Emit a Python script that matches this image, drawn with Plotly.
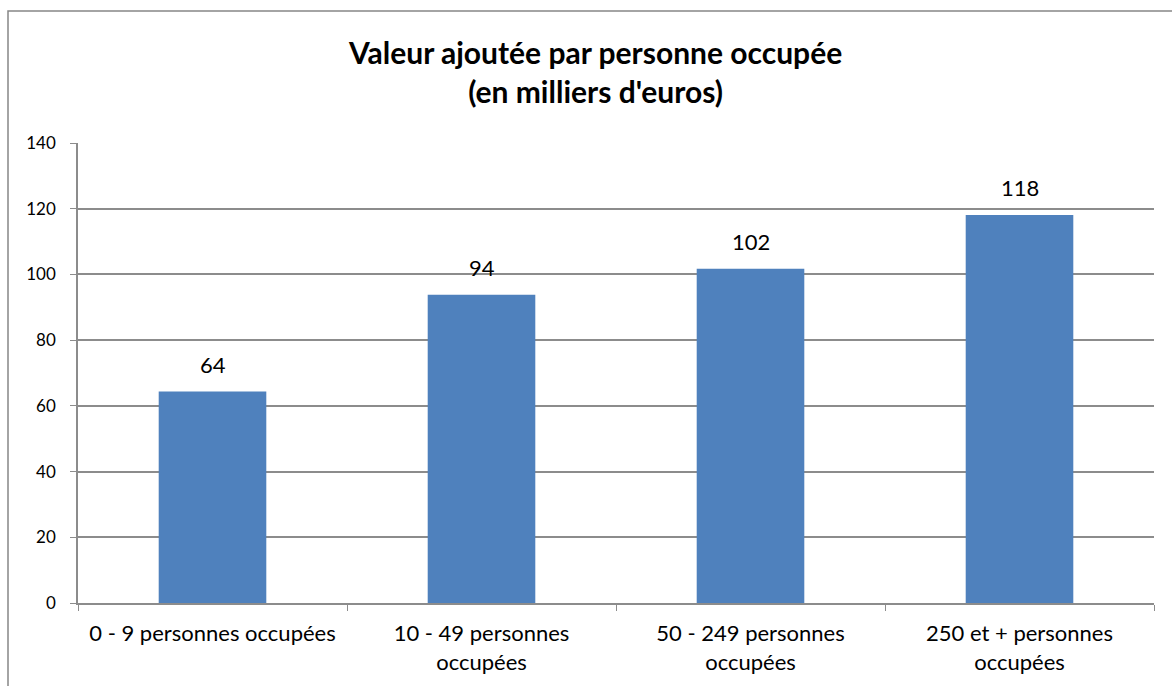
import plotly.graph_objects as go

categories = ["0 - 9 personnes occupées", "10 - 49 personnes<br>occupées",
              "50 - 249 personnes<br>occupées", "250 et + personnes<br>occupées"]
values = [64.4, 93.8, 101.7, 118.1]
labels = ["64", "94", "102", "118"]
y_ticks = [0, 20, 40, 60, 80, 100, 120, 140]

FONT = "Lato, Open Sans, sans-serif"
GRID = "#8c8c8c"

fig = go.Figure()
fig.add_trace(go.Bar(
    x=categories, y=values, width=0.4,
    marker=dict(color="#4F81BD", line=dict(width=0)),
    hoverinfo="skip",
))

for c, v, t in zip(categories, values, labels):
    fig.add_annotation(x=c, y=v, text=t, showarrow=False, yshift=27,
                       yanchor="middle",
                       font=dict(family=FONT, size=22, color="#000"))

# chart-area border
fig.add_shape(type="rect", xref="paper", yref="paper",
              x0=(8 - 78) / 1076, x1=(1185 - 78) / 1076,
              y0=(603 - 700) / 460, y1=(603 - 11) / 460,
              line=dict(color="#868686", width=1.5), layer="below")

fig.add_annotation(xref="paper", yref="paper",
                   x=(595 - 78) / 1076, y=(603 - 72) / 460,
                   xanchor="center", yanchor="middle",
                   text="<b>Valeur ajoutée par personne occupée<br>(en milliers d'euros)</b>",
                   showarrow=False, font=dict(family=FONT, size=30, color="#000"),
                   align="center")

fig.update_layout(
    width=1172, height=686,
    margin=dict(l=78, r=18, t=143, b=83),
    paper_bgcolor="white", plot_bgcolor="white",
    showlegend=False,
    font=dict(family=FONT, color="#000"),
    bargap=0.6,
)
fig.update_xaxes(
    type="category", tickson="boundaries", ticks="outside", ticklen=6,
    tickcolor=GRID, showline=True, linecolor=GRID, linewidth=1.5,
    showgrid=False, tickfont=dict(family=FONT, size=22, color="#000"),
    ticklabelstandoff=10,
)
fig.update_yaxes(
    range=[0, 140], tickvals=y_ticks, ticks="outside", ticklen=6,
    tickcolor=GRID, showline=True, linecolor=GRID, linewidth=1.5,
    showgrid=True, gridcolor=GRID, gridwidth=1.5, zeroline=False,
    tickfont=dict(family=FONT, size=17, color="#000"),
    ticklabelstandoff=11,
)

fig.write_html("out.html", config={"displayModeBar": False},
               post_script="document.body.style.margin='0';")
